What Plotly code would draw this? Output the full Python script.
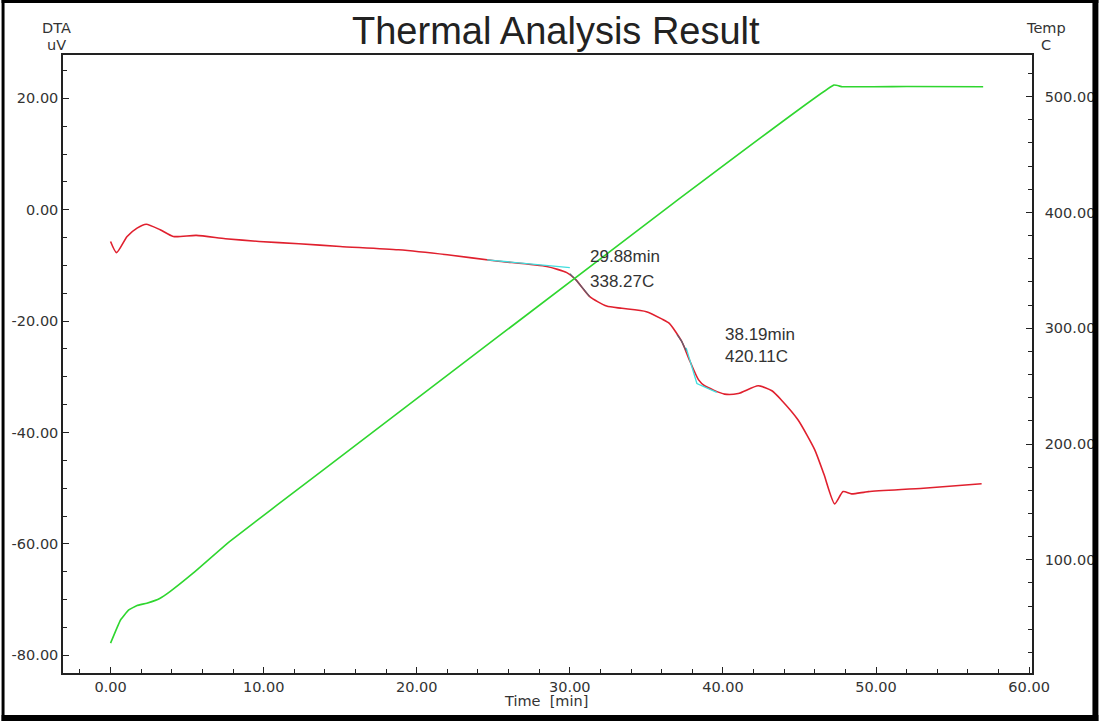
import plotly.graph_objects as go

# ---- data ----
dta_time = [0.0, 0.39, 1.08, 1.73, 2.33, 3.24, 4.1, 5.6, 7.5, 9.7, 12.3, 15.0, 18.8, 22.0,
            25.2, 28.5, 29.8, 30.4, 31.3, 32.4, 33.4, 35.0, 36.0, 36.5, 37.3, 37.8, 38.4,
            38.8, 40.1, 41.0, 42.3, 43.2, 43.8, 44.9, 46.0, 46.6, 47.3, 47.85, 48.4, 49.5,
            53.1, 56.9]
dta_uv = [-5.7, -7.7, -4.8, -3.3, -2.6, -3.6, -4.8, -4.6, -5.2, -5.7, -6.1, -6.6, -7.2, -8.1,
          -9.2, -10.2, -11.3, -12.6, -15.6, -17.3, -17.7, -18.3, -19.6, -20.4, -23.6, -26.9, -30.5,
          -31.6, -33.1, -33.0, -31.6, -32.5, -34.1, -37.7, -43.1, -47.5, -52.8, -50.6, -51.0, -50.6,
          -50.0, -49.2]

temp_time = [0.0, 0.65, 1.19, 1.73, 2.37, 3.24, 3.88, 5.39, 7.77, 13.9, 36.9, 47.25, 47.8, 52.0, 57.0]
temp_c = [28.0, 48.0, 56.7, 60.5, 62.5, 66.8, 72.5, 88.4, 115.7, 177.6, 409.3, 510.0, 508.6, 508.8, 508.6]

base1_time = [24.6, 30.0]
base1_uv = [-9.0, -10.4]
base2_time = [37.6, 38.3, 39.6]
base2_uv = [-24.8, -31.2, -32.8]
tan1_time = [30.0, 30.4, 31.3]
tan1_uv = [-11.5, -12.6, -15.6]
tan2_time = [37.0, 37.3, 37.6]
tan2_uv = [-22.4, -23.6, -25.3]

peak_labels = [("29.88min", 31.2, -8.47), ("338.27C", 31.2, -12.8),
               ("38.19min", 40.0, -22.46), ("420.11C", 40.0, -26.35)]

x_ticks = [0, 10, 20, 30, 40, 50, 60]
y1_ticks = [-80, -60, -40, -20, 0, 20]
y2_ticks = [100, 200, 300, 400, 500]

# ---- layout geometry (pixels) ----
FW, FH = 1107, 721
L, R, T, B = 62, 1040, 55, 673
W, H = R - L, B - T
def px(x):
    return (x - L) / W
def py(y):
    return (B - y) / H

TICKFONT = dict(family="DejaVu Sans", size=14.5, color="#333333")
LINEC = "#222222"

fig = go.Figure()
fig.add_trace(go.Scatter(x=temp_time, y=temp_c, mode="lines", yaxis="y2",
                         line=dict(color="#2fd62f", width=1.6, shape="spline", smoothing=0.3),
                         showlegend=False))
fig.add_trace(go.Scatter(x=dta_time, y=dta_uv, mode="lines",
                         line=dict(color="#e0202e", width=1.6, shape="spline", smoothing=0.6),
                         showlegend=False))
for tx, ty, col in [(base1_time, base1_uv, "#40dede"), (base2_time, base2_uv, "#40dede"),
                    (tan1_time, tan1_uv, "#606070"), (tan2_time, tan2_uv, "#606070")]:
    fig.add_trace(go.Scatter(x=tx, y=ty, mode="lines", line=dict(color=col, width=1.3),
                             showlegend=False))

annotations = []
for txt, ax_, ay_ in peak_labels:
    annotations.append(dict(text=txt, x=ax_, y=ay_, xref="x", yref="y", xanchor="left",
                            yanchor="middle", showarrow=False,
                            font=dict(family="Liberation Sans", size=17, color="#333333")))
for txt, x, y in [("DTA", 55, 28), ("uV", 55, 45), ("Temp", 1054, 28), ("C", 1054, 45),
                  ("Time  [min]", 549, 701)]:
    annotations.append(dict(text=txt, x=px(x), y=py(y), xref="paper", yref="paper",
                            xanchor="center", yanchor="middle", showarrow=False,
                            font=dict(family="DejaVu Sans", size=14.5, color="#333333")))
annotations.append(dict(text="Thermal Analysis Result", x=px(560), y=py(31), xref="paper",
                        yref="paper", xanchor="center", yanchor="middle", showarrow=False,
                        font=dict(family="Liberation Sans", size=38, color="#222222")))

shapes = []
for x0, y0, x1, y1 in [(0, 0, 3, FH), (0, 0, FW, 3), (FW - 6, 0, FW, FH), (0, FH - 6, FW, FH)]:
    shapes.append(dict(type="rect", xref="paper", yref="paper", x0=px(x0), x1=px(x1),
                       y0=py(y1), y1=py(y0), fillcolor="black", line=dict(width=0), layer="above"))

fig.update_layout(
    width=FW, height=FH, autosize=False,
    margin=dict(l=L, r=FW - R, t=T, b=FH - B, pad=0),
    paper_bgcolor="white", plot_bgcolor="white",
    showlegend=False,
    xaxis=dict(range=[-3.107, 60.19], tickvals=x_ticks, ticktext=[f"{v:.2f}" for v in x_ticks],
               showgrid=False, zeroline=False, showline=True, linecolor=LINEC, linewidth=1.5,
               mirror=True, ticks="inside", ticklen=6, tickcolor=LINEC, tickfont=TICKFONT,
               minor=dict(dtick=2, tick0=0, ticks="inside", ticklen=4, tickcolor=LINEC)),
    yaxis=dict(range=[-83.16, 27.77], tickvals=y1_ticks, ticktext=[f"{v:.2f}" for v in y1_ticks],
               showgrid=False, zeroline=False, showline=True, linecolor=LINEC, linewidth=1.5,
               ticks="inside", ticklen=6, tickcolor=LINEC, tickfont=TICKFONT,
               minor=dict(dtick=5, tick0=0, ticks="inside", ticklen=4, tickcolor=LINEC)),
    yaxis2=dict(range=[2.2, 536], tickvals=y2_ticks, ticktext=[f"{v:.2f}" for v in y2_ticks],
                overlaying="y", side="right", showgrid=False, zeroline=False, showline=True,
                linecolor=LINEC, linewidth=1.5, ticks="inside", ticklen=6, tickcolor=LINEC,
                tickfont=TICKFONT, ticklabelstandoff=8,
                minor=dict(dtick=20, tick0=0, ticks="inside", ticklen=4, tickcolor=LINEC)),
    annotations=annotations,
    shapes=shapes,
)

fig.write_html("out.html", config={"responsive": False, "displayModeBar": False})

# remove the default page margin so the figure sits at the window's top-left corner
with open("out.html", "r", encoding="utf-8") as f:
    html = f.read()
html = html.replace("<head>", "<head><style>html,body{margin:0;padding:0;overflow:hidden;}</style>", 1)
with open("out.html", "w", encoding="utf-8") as f:
    f.write(html)
